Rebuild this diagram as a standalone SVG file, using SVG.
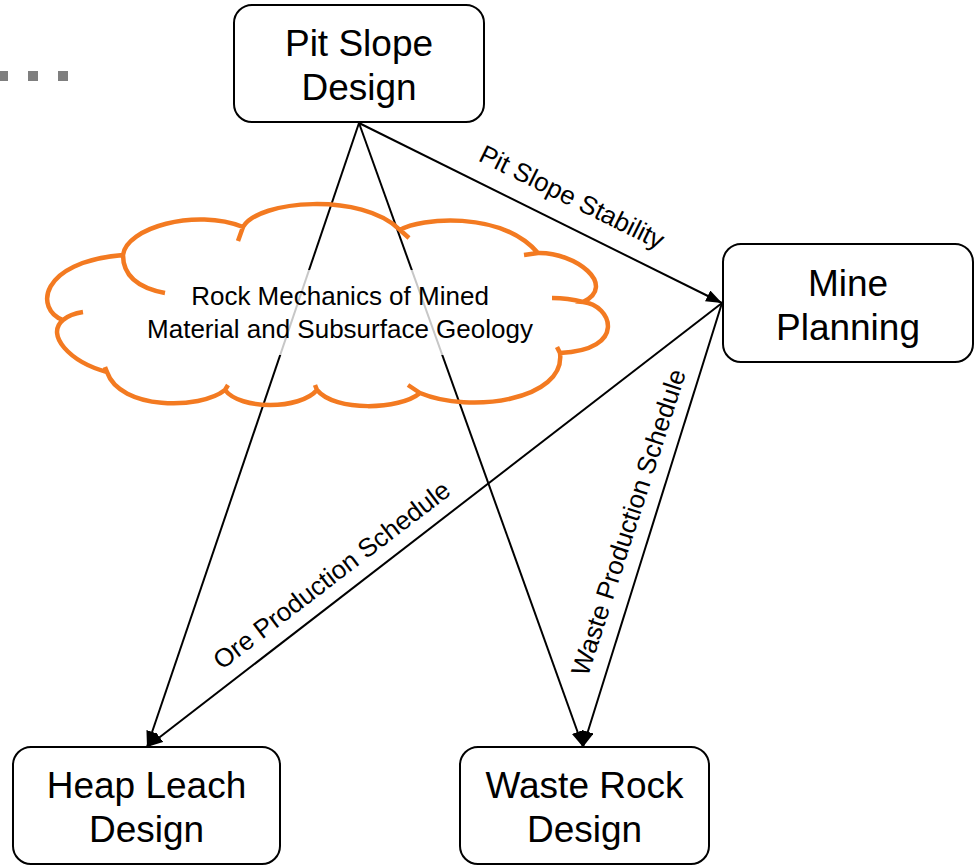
<svg xmlns="http://www.w3.org/2000/svg" width="980" height="866" viewBox="0 0 980 866">
<defs>
<marker id="arr" markerUnits="userSpaceOnUse" markerWidth="18" markerHeight="14" refX="16" refY="6" orient="auto">
<path d="M0,0 L16,6 L0,12 Z" fill="#000"/>
</marker>
<style>
.box{fill:#fff;stroke:#000;stroke-width:2}
.t{font-family:"Liberation Sans",Arial,sans-serif;fill:#000;text-anchor:middle}
.node{font-size:37px}
.lbl{font-size:26px}
.conn{stroke:#000;stroke-width:2;fill:none;marker-end:url(#arr)}
.cloud{fill:none;stroke:#F37A21;stroke-width:4.5}
.dot{fill:#7F7F7F}
</style>
</defs>
<rect width="980" height="866" fill="#fff"/>
<g id="dots">
<rect class="dot" x="-2" y="71" width="10" height="10"/>
<rect class="dot" x="28" y="71" width="10" height="10"/>
<rect class="dot" x="58" y="71" width="10" height="10"/>
</g>
<g id="connectors">
<line class="conn" x1="359" y1="123" x2="147" y2="747"/>
<line class="conn" x1="359" y1="123" x2="583" y2="747"/>
<line class="conn" x1="359" y1="123" x2="722" y2="303"/>
<line class="conn" x1="722" y1="303" x2="147" y2="747"/>
<line class="conn" x1="722" y1="303" x2="583" y2="747"/>
<text class="t lbl" transform="translate(568,205) rotate(26.3)">Pit Slope Stability</text>
<text class="t lbl" transform="translate(337,582) rotate(-37.5)">Ore Production Schedule</text>
<text class="t lbl" transform="translate(637,525) rotate(-72.1)">Waste Production Schedule</text>
</g>
<g id="cloud">
<rect x="140" y="270" width="400" height="85" fill="#fff" fill-opacity="0.78"/>
<path class="cloud" d="M123,255 C126,228 195,208 243,227 C258,200 362,192 400,230 C420,218 500,210 538,253 C575,252 618,285 583,302 C612,305 628,350 560,353 C566,400 470,414 420,393 C400,410 335,412 317,390 C300,410 240,410 225,390 C200,410 120,410 107,372 C70,362 45,335 63,320 C35,310 38,262 123,255 Z M123,255 Q123,285 165,293 M243,227 L238,241 M400,230 L409,238 M538,253 L524,255 M583,302 Q568,298 552,298 M560,353 L557,347 M420,393 L408,385 M317,390 L315,385 M225,390 L228,385 M107,372 L105,367 M63,320 Q70,314 83,312"/>
<text class="t lbl" x="340" y="305">Rock Mechanics of Mined</text>
<text class="t lbl" x="340" y="338">Material and Subsurface Geology</text>
</g>
<g id="pit-slope-design">
<rect class="box" x="234" y="5" width="250" height="117" rx="18"/>
<text class="t node" x="359" y="56">Pit Slope</text>
<text class="t node" x="359" y="100">Design</text>
</g>
<g id="mine-planning">
<rect class="box" x="723" y="244" width="250" height="118" rx="18"/>
<text class="t node" x="848" y="296">Mine</text>
<text class="t node" x="848" y="340">Planning</text>
</g>
<g id="heap-leach-design">
<rect class="box" x="13" y="747" width="267" height="117" rx="18"/>
<text class="t node" x="146.5" y="798">Heap Leach</text>
<text class="t node" x="146.5" y="842">Design</text>
</g>
<g id="waste-rock-design">
<rect class="box" x="460" y="747" width="249" height="117" rx="18"/>
<text class="t node" x="584.5" y="798">Waste Rock</text>
<text class="t node" x="584.5" y="842">Design</text>
</g>
</svg>
